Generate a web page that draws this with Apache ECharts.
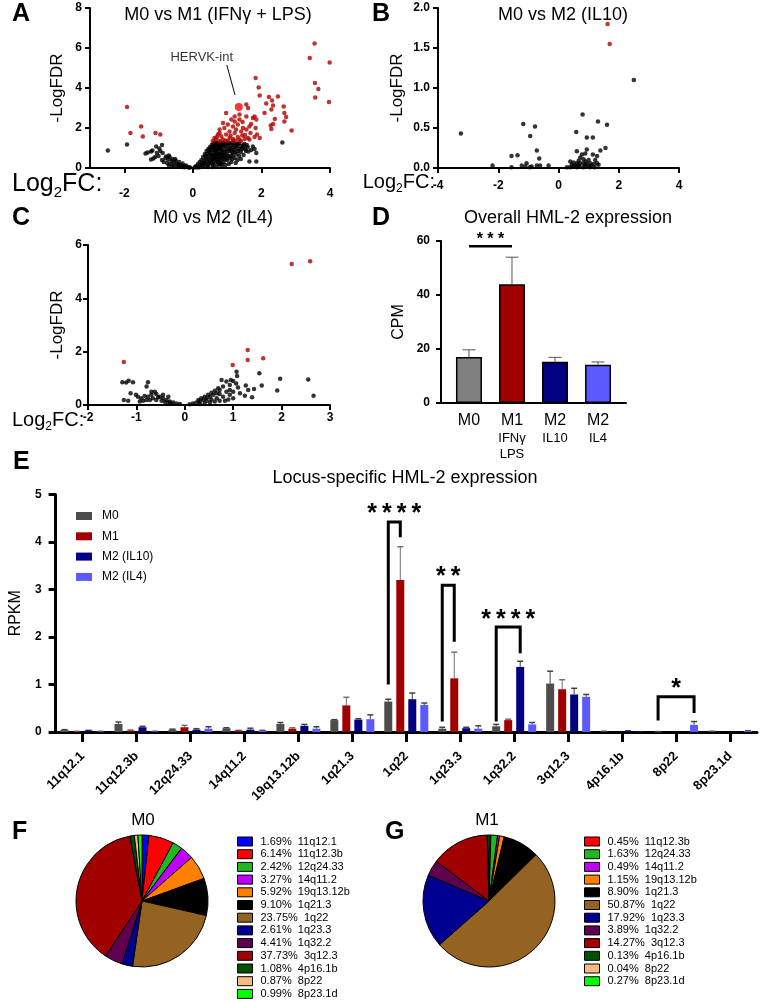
<!DOCTYPE html>
<html><head><meta charset="utf-8">
<script src="https://cdn.jsdelivr.net/npm/echarts@6/dist/echarts.min.js"></script>
<style>html,body{margin:0;padding:0;background:#fff}#c{width:760px;height:1001px}</style>
</head><body><div id="c"></div>
<script>
// ---------------- DATA ----------------
// Panel A volcano (Log2FC, -LogFDR)
const volcA_ns = [[-2.48,0.87],[-1.92,1.17],[-1.38,0.72],[-1.32,0.78],[-1.22,0.82],[-1.18,0.88],[-1.07,1.07],[-0.98,0.98],[-0.9,1.15],[-0.95,0.85],[-0.88,0.75],[-1.0,0.6],[-1.1,0.55],[-1.22,0.42],[-1.15,0.48],[-0.78,0.58],[-0.72,0.42],[-0.62,0.35],[-0.55,0.28],[-0.45,0.2],[-0.35,0.14],[-0.25,0.1],[-0.15,0.05],[-0.08,0.02],[-0.8,0.5],[-0.7,0.62],[-0.6,0.45],[-0.5,0.38],[-0.4,0.3],[-0.3,0.22],[-0.2,0.12],[-0.85,0.3],[-0.75,0.25],[-0.65,0.2],[-0.55,0.12],[-0.45,0.1],[-0.35,0.06],[-0.25,0.04],[-0.9,0.4],[-1.05,0.75],[-0.68,0.55],[-0.52,0.45],[-0.42,0.15],[-0.3,0.08],[-0.12,0.03],[-0.6,0.08],[-0.7,0.12],
[0.05,0.02],[0.1,0.05],[0.12,0.1],[0.15,0.2],[0.18,0.08],[0.2,0.3],[0.22,0.15],[0.25,0.4],[0.28,0.22],[0.3,0.1],[0.3,0.55],[0.32,0.35],[0.35,0.7],[0.35,0.18],[0.38,0.48],[0.4,0.85],[0.4,0.3],[0.42,0.12],[0.45,0.6],[0.45,0.95],[0.48,0.4],[0.5,1.05],[0.5,0.75],[0.5,0.22],[0.52,0.55],[0.55,1.15],[0.55,0.88],[0.55,0.35],[0.58,0.65],[0.6,1.22],[0.6,1.0],[0.6,0.45],[0.6,0.15],[0.62,0.78],[0.65,1.28],[0.65,1.1],[0.65,0.55],[0.65,0.28],[0.68,0.9],[0.7,1.25],[0.7,0.7],[0.7,0.4],[0.72,1.05],[0.75,1.2],[0.75,0.85],[0.75,0.55],[0.75,0.2],[0.78,1.0],[0.8,1.28],[0.8,0.7],[0.8,0.35],[0.82,1.12],[0.85,0.9],[0.85,0.5],[0.88,1.25],[0.88,0.65],[0.9,1.05],[0.9,0.3],[0.92,0.8],[0.95,1.2],[0.95,0.55],[0.98,0.95],[1.0,1.28],[1.0,0.7],[1.0,0.4],[1.02,1.1],[1.05,0.85],[1.08,1.22],[1.1,0.6],[1.1,1.0],[1.12,0.3],[1.15,1.15],[1.15,0.78],[1.2,1.25],[1.2,0.9],[1.22,0.5],[1.25,1.05],[1.28,0.7],[1.3,1.2],[1.32,0.95],[1.35,0.6],[1.38,1.1],[1.4,0.8],[1.45,1.0],[1.48,0.65],[1.5,1.2],[1.55,0.85],[1.6,1.05],[1.62,0.82],[1.75,1.08],[1.7,0.9],[1.8,0.95],[1.85,0.75],[1.65,0.33],[1.85,0.33],[2.61,1.28],[1.4,0.45],[1.3,0.4],[1.25,0.25],[0.95,0.15],[0.85,0.12],[1.05,0.2],[0.7,0.08],[0.45,0.05],[0.25,0.05],[0.15,0.02],
[0.08,0.08],[0.2,0.05],[0.27,0.12],[0.33,0.25],[0.37,0.6],[0.43,0.72],[0.43,0.45],[0.47,0.85],[0.47,0.25],[0.52,0.95],[0.53,0.65],[0.57,1.05],[0.57,0.45],[0.58,0.25],[0.62,1.12],[0.63,0.9],[0.63,0.62],[0.67,1.18],[0.67,0.75],[0.68,0.45],[0.72,0.95],[0.73,0.6],[0.73,0.3],[0.77,1.1],[0.77,0.72],[0.78,0.45],[0.82,0.95],[0.83,0.6],[0.83,0.25],[0.87,1.15],[0.87,0.78],[0.9,0.45],[0.93,1.12],[0.93,0.65],[0.97,0.85],[0.97,0.45],[1.03,1.2],[1.03,0.6],[1.07,0.95],[1.07,0.5],[1.12,0.85],[1.13,1.25],[1.17,0.65],[1.18,1.02],[1.23,0.8],[1.27,1.15],[1.33,0.85],[1.36,1.25],[1.42,0.95],[1.47,1.12],[1.52,0.95],[1.57,1.15],[0.58,0.05],[0.8,0.18],[1.15,0.45]];
const volcA_sig = [[-1.92,3.05],[-1.82,1.75],[-1.51,2.08],[-1.46,1.58],[-1.09,1.75],[-0.95,1.67],
[1.83,4.5],[1.92,4.03],[1.95,3.62],[3.55,6.23],[3.41,5.5],[3.99,5.28],[3.56,4.25],[3.66,3.95],[3.57,3.53],[3.97,3.3],
[2.22,3.55],[2.31,3.38],[2.48,3.58],[2.14,3.22],[2.34,3.12],[2.65,3.08],[2.67,2.75],[2.72,2.55],[2.67,2.33],[2.09,2.75],[2.29,2.92],[2.39,2.45],[2.34,2.2],[2.27,2.12],[2.29,1.95],[2.88,1.87],
[1.56,3.17],[1.61,3.0],[1.22,2.58],[0.97,2.75],[1.36,2.67],[1.56,2.58],[1.75,2.5],[1.85,2.42],[1.8,2.58],[1.12,2.42],[1.22,2.33],[1.36,2.42],[0.88,2.25],[1.02,2.17],[1.17,2.08],[1.31,2.17],[1.46,2.0],[1.65,2.08],[1.83,2.0],[1.87,1.67],[1.95,1.5],[1.8,1.55],[1.61,1.5],[1.44,1.62],[1.22,1.75],[1.07,1.83],[0.92,2.0],[0.78,1.92],[0.73,1.67],[0.63,1.5],[0.68,1.42],[0.83,1.58],[0.97,1.67],[1.07,1.5],[1.17,1.45],[1.31,1.55],[1.36,1.42],[1.51,1.45],[1.65,1.42],[0.88,1.42],[1.02,1.35],[1.17,1.35],[0.78,1.35],[0.58,1.35],[1.41,1.83],[1.56,1.92],[1.68,1.75],[0.78,1.75],[1.26,1.92],[1.45,2.3],[1.7,2.2],[1.52,1.65],[0.95,1.38],[1.25,1.38],[1.4,1.35],[1.1,1.62],[0.7,1.55]];
const hervkPoint = [[1.34,3.05]];
const hervkPointer = [[0.99,5.15],[1.23,3.65]];
const hervkLabel = [[0.26,5.55]];

// Panel B volcano
const volcB_ns = [[2.5,1.1],[-3.24,0.43],[-2.19,0.03],[-1.17,0.55],[-0.78,0.52],[-0.94,0.4],[-0.72,0.22],[-0.64,0.12],[-1.56,0.15],[-1.36,0.16],[-1.06,0.06],[-1.22,0.03],[-0.89,0.02],[-0.72,0.03],[-0.61,0.03],[-0.33,0.03],[-1.56,0.01],[-1.1,0.02],[-0.95,0.01],
[0.8,0.67],[1.31,0.58],[1.61,0.54],[0.59,0.45],[0.94,0.38],[1.14,0.38],[1.56,0.25],[1.39,0.22],[0.94,0.23],[0.61,0.21],[0.78,0.17],[0.89,0.18],[1.14,0.17],[1.28,0.15],[0.72,0.13],[0.83,0.11],[1.0,0.1],[0.39,0.08],[0.5,0.07],[0.61,0.06],[0.72,0.06],[0.83,0.06],[0.94,0.05],[1.05,0.06],[1.17,0.05],[1.28,0.06],[1.33,0.04],[0.44,0.04],[0.55,0.03],[0.66,0.03],[0.88,0.03],[1.1,0.03],[0.39,0.01],[0.61,0.01],[0.83,0.01],[1.05,0.01],[1.2,0.01],[0.28,0.01],[0.7,0.02],[0.98,0.02],[0.5,0.02],[1.22,0.1],[0.67,0.09],[0.9,0.08]];
const volcB_sig = [[1.63,1.8],[1.7,1.55]];

// Panel C volcano
const volcC_ns = [[2.55,0.96],[2.66,0.35],[1.97,0.98],[1.91,0.54],[1.54,1.19],[1.59,0.73],[1.43,0.6],[1.31,0.56],[1.26,0.73],[1.24,0.35],[1.39,0.29],[1.07,1.25],[1.08,1.09],[1.06,0.81],[1.1,0.66],[1.0,0.9],[0.95,0.94],[0.76,0.94],[0.86,0.88],[0.93,0.75],[0.79,0.69],[0.72,0.56],[0.86,0.5],[0.93,0.38],[1.0,0.25],[0.79,0.31],[0.66,0.44],[0.59,0.38],[0.52,0.31],[0.45,0.25],[0.38,0.19],[0.31,0.13],[0.24,0.09],[0.17,0.06],[0.1,0.03],[0.69,0.63],[0.62,0.53],[0.55,0.46],[0.48,0.38],[0.41,0.31],[0.34,0.25],[0.28,0.19],[0.9,0.21],[0.83,0.16],[0.72,0.16],[0.62,0.13],[0.52,0.1],[0.41,0.06],[0.31,0.04],[0.66,0.25],[0.55,0.21],[0.45,0.16],[0.72,0.41],[1.0,0.5],[1.14,0.44],[0.93,0.56],
[-1.29,0.85],[-1.21,0.84],[-1.16,0.91],[-1.07,0.85],[-0.76,0.85],[-0.79,0.69],[-1.26,0.19],[-1.17,0.16],[-1.12,0.44],[-1.01,0.38],[-0.97,0.31],[-0.9,0.25],[-0.83,0.34],[-0.76,0.31],[-0.69,0.38],[-0.62,0.5],[-0.59,0.41],[-0.52,0.31],[-0.45,0.25],[-0.38,0.19],[-0.31,0.13],[-0.24,0.09],[-0.17,0.06],[-0.1,0.04],[-0.66,0.25],[-0.72,0.19],[-0.79,0.19],[-0.86,0.16],[-0.93,0.13],[-0.59,0.19],[-0.48,0.16],[-0.41,0.11],[-0.34,0.09],[-0.28,0.06],[-0.55,0.29],[-0.69,0.5],[-0.45,0.38],[-0.34,0.31]];
const volcC_sig = [[-1.26,1.61],[0.99,1.5],[1.3,2.06],[1.3,1.69],[1.62,1.75],[2.21,5.29],[2.59,5.39]];

// Panel D
const dGroups = ['M0','M1','M2','M2'];
const dSub = [[],['IFNγ','LPS'],['IL10'],['IL4']];
const dCPM = [17.0, 44.0, 15.3, 14.2];
const dErr = [2.7, 10.0, 1.6, 1.0];
const dSig = {from:0, to:1, y:58.1, starY:62.2, stars:'***'};

// Panel E
const loci = ['11q12.1','11q12.3b','12q24.33','14q11.2','19q13.12b','1q21.3','1q22','1q23.3','1q32.2','3q12.3','4p16.1b','8p22','8p23.1d'];
const eNames = ['M0','M1','M2 (IL10)','M2 (IL4)'];
const eM0  = [0.04,0.17,0.05,0.08,0.17,0.25,0.64,0.07,0.12,1.02,0.01,0.005,0.01];
const eM0e = [0.01,0.04,0.01,0.01,0.03,0.01,0.05,0.03,0.04,0.26,0.005,0.003,0.005];
const eM1  = [0.01,0.03,0.10,0.03,0.07,0.56,3.20,1.13,0.25,0.90,0.005,0,0];
const eM1e = [0.005,0.01,0.04,0.005,0.02,0.17,0.70,0.55,0.02,0.20,0,0,0];
const eM2  = [0.03,0.10,0.05,0.05,0.13,0.26,0.69,0.08,1.37,0.79,0.02,0,0.005];
const eM2e = [0.005,0.02,0.02,0.03,0.03,0.02,0.13,0.02,0.12,0.13,0.005,0,0];
const eM4  = [0.01,0.01,0.07,0.03,0.07,0.27,0.57,0.07,0.16,0.74,0.005,0.15,0.02];
const eM4e = [0.003,0.005,0.04,0.005,0.04,0.09,0.04,0.06,0.04,0.05,0,0.07,0.005];
const brLocus = ['1q22','1q23.3','1q32.2','8p22'];
const brLeft = [0,0,0,0];
const brRight = [1,1,2,3];
const brLeftEnd = [1.0,0.22,0.22,0.24];
const brRightEnd = [4.1,1.9,1.66,0.4];
const brTop = [4.42,3.09,2.21,0.74];
const brStarY = [4.74,3.41,2.5,1.05];
const brStars = ['****','**','****','*'];

// Panels F, G
const pieF_names = ['11q12.1','11q12.3b','12q24.33','14q11.2','19q13.12b','1q21.3','1q22','1q23.3','1q32.2','3q12.3','4p16.1b','8p22','8p23.1d'];
const pieF_pct = ['1.69','6.14','2.42','3.27','5.92','9.10','23.75','2.61','4.41','37.73','1.08','0.87','0.99'];
const pieG_names = ['11q12.3b','12q24.33','14q11.2','19q13.12b','1q21.3','1q22','1q23.3','1q32.2','3q12.3','4p16.1b','8p22','8p23.1d'];
const pieG_pct = ['0.45','1.63','0.49','1.15','8.90','50.87','17.92','3.89','14.27','0.13','0.04','0.27'];

// ---------------- STYLE ----------------
const FONT = '"Liberation Sans", Arial, sans-serif';
const lociColor = {'11q12.1':'#0000ff','11q12.3b':'#ff0000','12q24.33':'#20b820','14q11.2':'#bf00ff','19q13.12b':'#ff8000','1q21.3':'#000000','1q22':'#946321','1q23.3':'#000090','1q32.2':'#600050','3q12.3':'#a00000','4p16.1b':'#005000','8p22':'#f4bc80','8p23.1d':'#00ff00'};
const eColors = ['#4d4d4d','#a00000','#000080','#5a5aff'];
const dColors = ['#808080','#a00000','#000080','#5a5aff'];
const sigRed = '#b00000';
const BW = 8, BGAP = 0.5;

function merge(a,b){ for (const k in b){ if (b[k] && typeof b[k]==='object' && !Array.isArray(b[k]) && a[k] && typeof a[k]==='object') merge(a[k],b[k]); else a[k]=b[k]; } return a; }
function axisBase(){ return {
  axisLine:{show:true,onZero:false,lineStyle:{color:'#000',width:2}},
  axisTick:{show:true,length:5,lineStyle:{color:'#000',width:2}},
  axisLabel:{color:'#000',fontFamily:FONT,fontWeight:'bold',fontSize:12},
  splitLine:{show:false},
  nameTextStyle:{color:'#000',fontFamily:FONT,fontSize:17}
};}
function ax(o){ return merge(axisBase(), o); }

const grids = [
  {left:90, top:8, width:240, height:160},
  {left:438, top:8, width:241, height:160},
  {left:88, top:245, width:242, height:160},
  {left:441, top:241, width:185, height:162},
  {left:42, top:494.5, width:715, height:237.5}
];

const xAxes = [
  ax({type:'value', gridIndex:0, min:-3, max:4, axisLabel:{customValues:[-2,0,2,4], margin:20}, axisTick:{customValues:[-2,0,2,4]}}),
  ax({type:'value', gridIndex:1, min:-4, max:4, interval:2, axisLabel:{margin:12}}),
  ax({type:'value', gridIndex:2, min:-2, max:3, interval:1, axisLabel:{margin:7}}),
  ax({type:'value', gridIndex:3, min:-0.65, max:3.65, axisTick:{show:false},
      axisLabel:{customValues:[0,1,2,3], margin:9, fontWeight:'normal',
        formatter:function(v){ const i=Math.round(v); let s='{a|'+dGroups[i]+'}'; dSub[i].forEach(t=>{ s+='\n{b|'+t+'}'; }); return s; },
        rich:{a:{fontSize:16,lineHeight:18,fontFamily:FONT,color:'#000'}, b:{fontSize:13,lineHeight:16,fontFamily:FONT,color:'#000'}}}}),
  ax({type:'category', gridIndex:4, data:loci, axisLine:{lineStyle:{width:3}},
      axisTick:{alignWithLabel:true, length:10, lineStyle:{width:3}},
      axisLabel:{interval:0, rotate:45, fontSize:13, margin:22}})
];
const yAxes = [
  ax({type:'value', gridIndex:0, min:0, max:8, interval:2, name:'-LogFDR', nameLocation:'middle', nameGap:24}),
  ax({type:'value', gridIndex:1, min:0, max:2, interval:0.5, name:'-LogFDR', nameLocation:'middle', nameGap:32, axisLabel:{formatter:v=>v.toFixed(1)}}),
  ax({type:'value', gridIndex:2, min:0, max:6, interval:2, name:'-LogFDR', nameLocation:'middle', nameGap:22, axisLabel:{margin:6}}),
  ax({type:'value', gridIndex:3, min:0, max:60, interval:20, name:'CPM', nameLocation:'middle', nameGap:34, axisLabel:{margin:11}, nameTextStyle:{fontSize:16}}),
  ax({type:'value', gridIndex:4, min:0, max:5, interval:1, name:'RPKM', nameLocation:'middle', nameGap:27, axisLine:{lineStyle:{width:3}}, axisTick:{length:7,lineStyle:{width:3}}, axisLabel:{margin:14}, nameTextStyle:{fontSize:16}})
];

function scatter(xi, data, color, size){ return {type:'scatter', xAxisIndex:xi, yAxisIndex:xi, data:data, symbolSize:size||4.5, itemStyle:{color:color}, silent:true}; }

const series = [];
// Volcanoes
series.push(scatter(0, volcA_ns, '#000'));
series.push(scatter(0, volcA_sig, sigRed));
series.push(scatter(0, hervkPoint, '#ff0000', 8));
series.push({type:'line', xAxisIndex:0, yAxisIndex:0, data:hervkPointer, symbol:'none', lineStyle:{color:'#000',width:1}, silent:true});
series.push({type:'scatter', xAxisIndex:0, yAxisIndex:0, data:hervkLabel, symbolSize:0, silent:true,
  label:{show:true, position:'inside', formatter:'HERVK-int', fontFamily:FONT, fontSize:13, color:'#000'}});
series.push(scatter(1, volcB_ns, '#000'));
series.push(scatter(1, volcB_sig, sigRed));
series.push(scatter(2, volcC_ns, '#000'));
series.push(scatter(2, volcC_sig, sigRed));

// Panel D bars
series.push({type:'bar', name:'cpm', xAxisIndex:3, yAxisIndex:3, barWidth:26, silent:true,
  data:dCPM.map((v,i)=>({value:[i,v], itemStyle:{color:dColors[i], borderColor:'#000', borderWidth:1.5}}))});
series.push({type:'custom', xAxisIndex:3, yAxisIndex:3, silent:true, z:1,
  data:dCPM.map((v,i)=>[i,v,dErr[i]]),
  renderItem:function(p,api){
    const x=api.coord([api.value(0),0])[0];
    const y0=api.coord([api.value(0),api.value(1)])[1];
    const y1=api.coord([api.value(0),api.value(1)+api.value(2)])[1];
    return {type:'group',children:[
      {type:'line',shape:{x1:x,y1:y0,x2:x,y2:y1},style:{stroke:'#555',lineWidth:1}},
      {type:'line',shape:{x1:x-6.5,y1:y1,x2:x+6.5,y2:y1},style:{stroke:'#555',lineWidth:1}}]};
  }});
series.push({type:'custom', xAxisIndex:3, yAxisIndex:3, silent:true, clip:false,
  data:[[dSig.from,dSig.y]],
  renderItem:function(p,api){
    const a=api.coord([dSig.from,dSig.y]), b=api.coord([dSig.to,dSig.y]);
    const s=api.coord([(dSig.from+dSig.to)/2,dSig.starY]);
    return {type:'group',children:[
      {type:'line',shape:{x1:a[0],y1:a[1],x2:b[0],y2:b[1]},style:{stroke:'#000',lineWidth:2.5}},
      {type:'text',x:s[0],y:s[1]+4.5,style:{text:dSig.stars.split('').join(' '),font:'bold 16px '+FONT,fill:'#000',align:'center',verticalAlign:'middle'}}]};
  }});

// Panel E bars
const eVals=[eM0,eM1,eM2,eM4], eErrs=[eM0e,eM1e,eM2e,eM4e];
function slotPx(k){ return (k-1.5)*BW*(1+BGAP); }
eVals.forEach((vals,k)=>{
  series.push({type:'bar', name:eNames[k], xAxisIndex:4, yAxisIndex:4, data:vals, barWidth:BW, barGap:(BGAP*100)+'%', itemStyle:{color:eColors[k]}, silent:true});
});
eVals.forEach((vals,k)=>{
  series.push({type:'custom', xAxisIndex:4, yAxisIndex:4, silent:true, z:1,
    data:vals.map((v,i)=>[i,v,eErrs[k][i]]),
    renderItem:function(p,api){
      if(!(api.value(2)>0)) return null;
      const x=api.coord([api.value(0),0])[0]+slotPx(k);
      const y0=api.coord([api.value(0),api.value(1)])[1];
      const y1=api.coord([api.value(0),api.value(1)+api.value(2)])[1];
      const col = k===1 ? '#707070' : '#404040';
      return {type:'group',children:[
        {type:'line',shape:{x1:x,y1:y0,x2:x,y2:y1},style:{stroke:col,lineWidth:1}},
        {type:'line',shape:{x1:x-3,y1:y1,x2:x+3,y2:y1},style:{stroke:col,lineWidth:1.5}}]};
    }});
});
// Significance brackets in E
series.push({type:'custom', xAxisIndex:4, yAxisIndex:4, silent:true, clip:false, z:5,
  data:brLocus.map((l,i)=>[loci.indexOf(l), brTop[i]]),
  renderItem:function(p,api){
    const i=p.dataIndex, c=loci.indexOf(brLocus[i]);
    const cx=api.coord([c,0])[0];
    const xl=cx+slotPx(brLeft[i]), xr=cx+slotPx(brRight[i]);
    const yT=api.coord([c,brTop[i]])[1], yL=api.coord([c,brLeftEnd[i]])[1], yR=api.coord([c,brRightEnd[i]])[1];
    const yS=api.coord([c,brStarY[i]])[1];
    return {type:'group',children:[
      {type:'polyline',shape:{points:[[xl,yL],[xl,yT],[xr,yT],[xr,yR]]},style:{stroke:'#000',lineWidth:3,fill:null,lineJoin:'miter'}},
      {type:'text',x:(xl+xr)/2,y:yS+7,style:{text:brStars[i].split('').join('\u2009'),font:'bold 25px '+FONT,fill:'#000',align:'center',verticalAlign:'middle'}}]};
  }});

// Pies
function pie(names, pct, center){
  return {type:'pie', center:center, radius:66, startAngle:90, clockwise:true, silent:true,
    label:{show:false}, labelLine:{show:false}, emphasis:{disabled:true},
    itemStyle:{borderColor:'#000',borderWidth:1},
    data:names.map((n,i)=>({name:n, value:parseFloat(pct[i]), itemStyle:{color:lociColor[n]}}))};
}
series.push(pie(pieF_names, pieF_pct, [142,901]));
series.push(pie(pieG_names, pieG_pct, [489,901]));

const legendText = {fontFamily:FONT, fontSize:11, color:'#000'};
const legends = [
  {data:eNames, orient:'vertical', left:76, top:510, padding:0, itemWidth:16, itemHeight:8, itemGap:8.3, icon:'rect', selectedMode:false,
   textStyle:{fontFamily:FONT,fontSize:12,color:'#000',padding:[0,0,0,5]}},
  {data:pieF_names, orient:'vertical', left:237, top:836, padding:0, itemWidth:15, itemHeight:9, itemGap:1.7, icon:'rect', selectedMode:false,
   itemStyle:{borderColor:'#000',borderWidth:1}, textStyle:merge({padding:[0,0,0,3]},legendText),
   formatter:n=>pieF_pct[pieF_names.indexOf(n)]+'%  '+n},
  {data:pieG_names, orient:'vertical', left:584, top:836, padding:0, itemWidth:15, itemHeight:9, itemGap:1.7, icon:'rect', selectedMode:false,
   itemStyle:{borderColor:'#000',borderWidth:1}, textStyle:merge({padding:[0,0,0,3]},legendText),
   formatter:n=>pieG_pct[pieG_names.indexOf(n)]+'%  '+n}
];

function txt(t,x,y,size,opts){ opts=opts||{};
  return {type:'text', x:x, y:y, silent:true, style:{text:t, font:(opts.bold?'bold ':'')+size+'px '+FONT, fill:'#000',
    align:opts.align||'center', textAlign:opts.align||'center', verticalAlign:'middle', textVerticalAlign:'middle'}}; }
function log2fc(x,y,size,align){
  return {type:'text', x:x, y:y, silent:true, style:{
    text:'{a|Log}{s|2}{a|FC:}', align:align, textAlign:align, verticalAlign:'middle', textVerticalAlign:'middle',
    rich:{a:{fontSize:size,fontFamily:FONT,fill:'#000',color:'#000'}, s:{fontSize:Math.round(size*0.6),fontFamily:FONT,fill:'#000',color:'#000',padding:[Math.round(size*0.7),0,0,0]}}}};
}
const graphics = [
  txt('A',12,14,25,{bold:true,align:'left'}), txt('B',372,14,25,{bold:true,align:'left'}),
  txt('C',12,218,25,{bold:true,align:'left'}), txt('D',372,218,25,{bold:true,align:'left'}),
  txt('E',13,462,25,{bold:true,align:'left'}), txt('F',12,832,25,{bold:true,align:'left'}),
  txt('G',385,832,25,{bold:true,align:'left'}),
  txt('M0 vs M1 (IFNγ + LPS)',218,15,18), txt('M0 vs M2 (IL10)',563,15,18),
  txt('M0 vs M2 (IL4)',213,218,18), txt('Overall HML-2 expression',568,218,18),
  txt('Locus-specific HML-2 expression',405,478,18),
  txt('M0',143,820,17), txt('M1',487,820,17),
  log2fc(12,184,25,'left'), log2fc(435,182,20,'right'), log2fc(12,420,20,'left')
];

const chart = echarts.init(document.getElementById('c'), null, {renderer:'canvas'});
chart.setOption({
  animation:false, backgroundColor:'#fff',
  textStyle:{fontFamily:FONT},
  grid:grids, xAxis:xAxes, yAxis:yAxes, series:series, legend:legends, graphic:graphics
});
</script></body></html>
